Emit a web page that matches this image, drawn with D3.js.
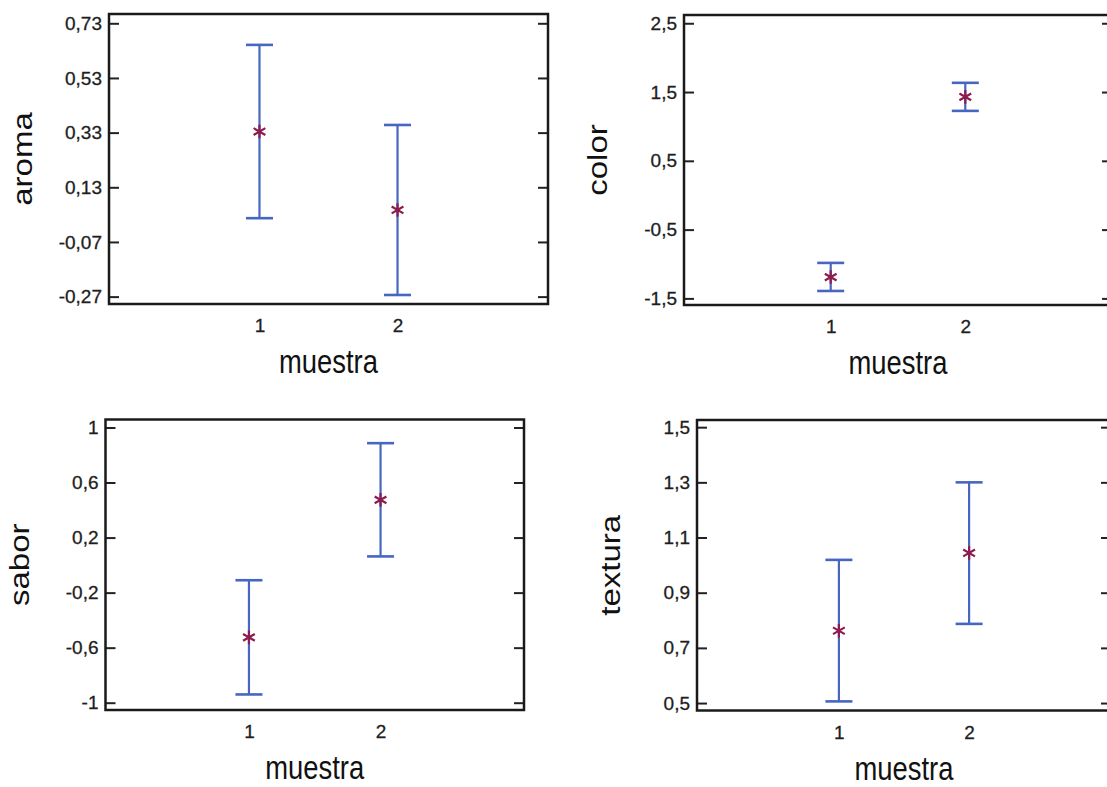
<!DOCTYPE html>
<html>
<head>
<meta charset="utf-8">
<script src="https://d3js.org/d3.v7.min.js"></script>
<style>
  body { margin: 0; background: #fff; }
  svg { display: block; }
</style>
</head>
<body>
<svg id="vis"></svg>
<script>
  // muestra categories
  var categories = [1, 2];
  var xLabel = 'muestra';

  // aroma
  var aromaMean = [0.334, 0.047];
  var aromaLow = [0.017, -0.264];
  var aromaHigh = [0.651, 0.358];
  var aromaTicks = [0.73, 0.53, 0.33, 0.13, -0.07, -0.27];
  var aromaTickLabels = ['0,73', '0,53', '0,33', '0,13', '-0,07', '-0,27'];
  var aromaRange = [-0.297, 0.764];

  // color
  var colorMean = [-1.19, 1.43];
  var colorLow = [-1.392, 1.226];
  var colorHigh = [-0.984, 1.634];
  var colorTicks = [2.5, 1.5, 0.5, -0.5, -1.5];
  var colorTickLabels = ['2,5', '1,5', '0,5', '-0,5', '-1,5'];
  var colorRange = [-1.596, 2.62];

  // sabor
  var saborMean = [-0.525, 0.474];
  var saborLow = [-0.94, 0.063];
  var saborHigh = [-0.11, 0.886];
  var saborTicks = [1, 0.6, 0.2, -0.2, -0.6, -1];
  var saborTickLabels = ['1', '0,6', '0,2', '-0,2', '-0,6', '-1'];
  var saborRange = [-1.053, 1.058];

  // textura
  var texturaMean = [0.762, 1.044];
  var texturaLow = [0.506, 0.787];
  var texturaHigh = [1.019, 1.30];
  var texturaTicks = [1.5, 1.3, 1.1, 0.9, 0.7, 0.5];
  var texturaTickLabels = ['1,5', '1,3', '1,1', '0,9', '0,7', '0,5'];
  var texturaRange = [0.473, 1.526];

  var panels = [
    {name: 'aroma', mean: aromaMean, low: aromaLow, high: aromaHigh, ticks: aromaTicks,
     labels: aromaTickLabels, range: aromaRange, minor: 0.05, x0: 109, x1: 548, y0: 14, y1: 304},
    {name: 'color', mean: colorMean, low: colorLow, high: colorHigh, ticks: colorTicks,
     labels: colorTickLabels, range: colorRange, minor: 0.2, x0: 684, x1: 1112, y0: 15, y1: 305},
    {name: 'sabor', mean: saborMean, low: saborLow, high: saborHigh, ticks: saborTicks,
     labels: saborTickLabels, range: saborRange, minor: 0.1, x0: 105.5, x1: 524, y0: 419.5, y1: 710},
    {name: 'textura', mean: texturaMean, low: texturaLow, high: texturaHigh, ticks: texturaTicks,
     labels: texturaTickLabels, range: texturaRange, minor: 0.05, x0: 697, x1: 1111, y0: 420, y1: 710.5}
  ];

  var font = '"Liberation Sans", Arial, sans-serif';
  var barColor = '#4766c1';
  var meanColor = '#8c1c4f';

  var svg = d3.select('#vis')
      .attr('width', 1107)
      .attr('height', 787);

  panels.forEach(function(p) {
    var g = svg.append('g');

    var xScale = d3.scaleLinear()
        .domain([-0.09, 3.09])
        .range([p.x0, p.x1]);

    var yScale = d3.scaleLinear()
        .domain(p.range)
        .range([p.y1, p.y0]);

    // minor ticks every p.minor, starting from the lowest labelled tick
    var base = d3.min(p.ticks);
    var minorTicks = [];
    for (var k = -20; k <= 60; k++) {
      var v = +(base + k * p.minor).toFixed(4);
      if (v > p.range[0] && v < p.range[1]) minorTicks.push(v);
    }

    var fmt = function(d) { return p.labels[p.ticks.indexOf(d)]; };

    // left axis: labels + inward ticks
    var left = g.append('g')
        .attr('transform', 'translate(' + p.x0 + ',0)');
    left.call(d3.axisLeft(yScale).tickValues(minorTicks).tickSize(-5).tickFormat(''));
    left.call(d3.axisLeft(yScale).tickValues(p.ticks).tickSize(-10).tickPadding(7).tickFormat(fmt));
    left.selectAll('.domain').remove();

    var right = g.append('g')
        .attr('transform', 'translate(' + p.x1 + ',0)');
    right.call(d3.axisRight(yScale).tickValues(minorTicks).tickSize(-5).tickFormat(''));
    right.call(d3.axisRight(yScale).tickValues(p.ticks).tickSize(-10).tickFormat(''));
    right.selectAll('.domain').remove();

    g.selectAll('.tick line')
        .attr('stroke', '#222')
        .attr('stroke-width', 2);

    // bottom axis labels
    var bottom = g.append('g')
        .attr('transform', 'translate(0,' + p.y1 + ')')
        .call(d3.axisBottom(xScale).tickValues(categories).tickSize(0).tickPadding(15)
          .tickFormat(d3.format('d')));
    bottom.select('.domain').remove();

    g.selectAll('.tick text')
        .attr('font-family', font)
        .attr('font-size', 19)
        .attr('fill', '#1e1e1e')
        .attr('stroke', '#1e1e1e')
        .attr('stroke-width', 0.3);

    // frame
    g.append('rect')
        .attr('x', p.x0)
        .attr('y', p.y0)
        .attr('width', p.x1 - p.x0)
        .attr('height', p.y1 - p.y0)
        .attr('fill', 'none')
        .attr('stroke', '#1a1a1a')
        .attr('stroke-width', 2.5);

    // error bars
    var bars = g.selectAll('.bar')
        .data(categories)
        .enter().append('g')
        .attr('class', 'bar');

    bars.append('line')
        .attr('x1', function(d) { return xScale(d); })
        .attr('x2', function(d) { return xScale(d); })
        .attr('y1', function(d, i) { return yScale(p.low[i]); })
        .attr('y2', function(d, i) { return yScale(p.high[i]); })
        .attr('stroke', barColor)
        .attr('stroke-width', 2.2);

    bars.selectAll('.cap')
        .data(function(d, i) { return [[d, p.low[i]], [d, p.high[i]]]; })
        .enter().append('line')
        .attr('class', 'cap')
        .attr('x1', function(d) { return xScale(d[0]) - 13.5; })
        .attr('x2', function(d) { return xScale(d[0]) + 13.5; })
        .attr('y1', function(d) { return yScale(d[1]); })
        .attr('y2', function(d) { return yScale(d[1]); })
        .attr('stroke', barColor)
        .attr('stroke-width', 2.6);

    bars.append('path')
        .attr('d', d3.symbol(d3.symbolAsterisk, 130))
        .attr('transform', function(d, i) {
          return 'translate(' + xScale(d) + ',' + yScale(p.mean[i]) + ')';
        })
        .attr('fill', 'none')
        .attr('stroke', meanColor)
        .attr('stroke-width', 2.2);

    // axis titles
    g.append('text')
        .attr('transform', 'translate(' + ((p.x0 + p.x1) / 2) + ',' + (p.y1 + 69) + ') scale(0.83,1)')
        .attr('text-anchor', 'middle')
        .attr('font-family', font)
        .attr('font-size', 33)
        .attr('fill', '#111')
        .text(xLabel);

    g.append('text')
        .attr('transform', 'translate(' + (p.x0 - 77) + ',' + ((p.y0 + p.y1) / 2) + ') scale(0.83,1) rotate(-90)')
        .attr('text-anchor', 'middle')
        .attr('font-family', font)
        .attr('font-size', 33)
        .attr('fill', '#111')
        .text(p.name);
  });
</script>
</body>
</html>
